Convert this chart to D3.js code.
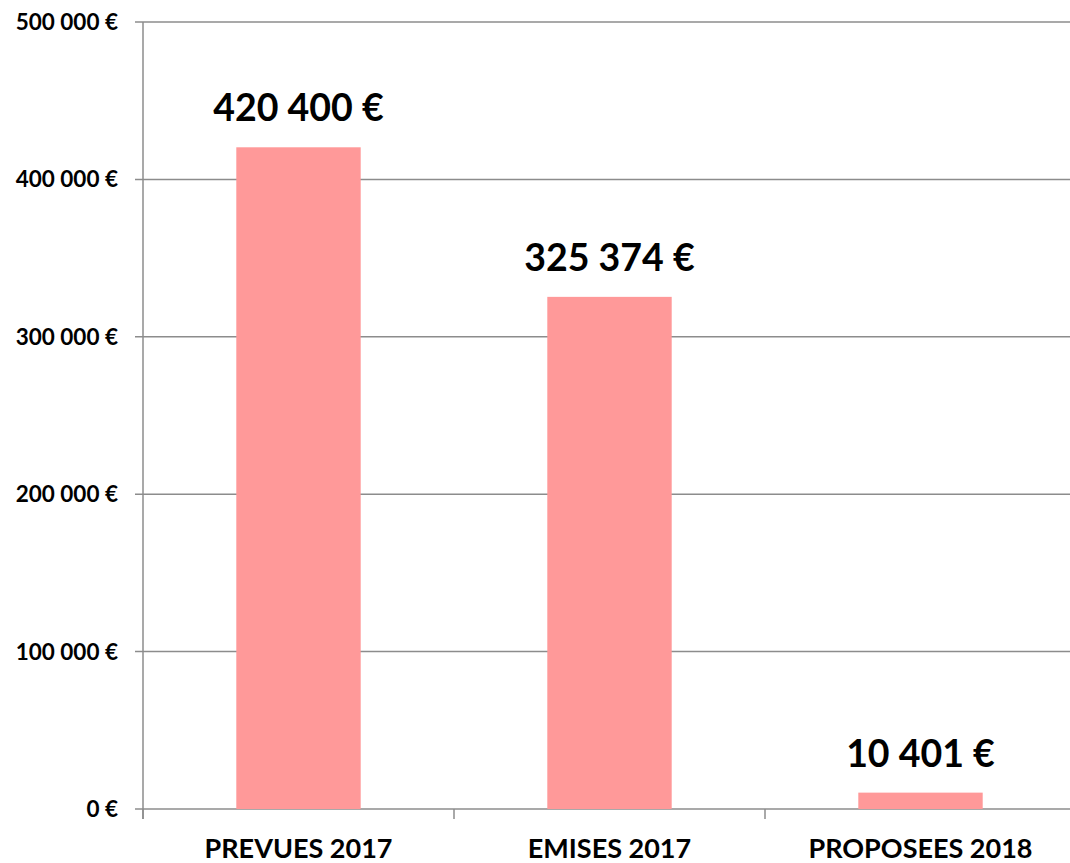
<!DOCTYPE html>
<html>
<head>
<meta charset="utf-8">
<script src="https://cdn.jsdelivr.net/npm/d3@7"></script>
<style>
  body { margin: 0; background: #fff; }
  text { font-family: Lato, "Open Sans", sans-serif; font-weight: bold; fill: #000; }
</style>
</head>
<body>
<div id="chart"></div>
<script>
var categories = ["PREVUES 2017", "EMISES 2017", "PROPOSEES 2018"];
var values = [420400, 325374, 10401];
var yTicks = [0, 100000, 200000, 300000, 400000, 500000];

var width = 1070, height = 863;
var plotLeft = 143, plotRight = 1076, plotTop = 22, plotBottom = 809;

function euro(v) {
  return d3.format(",")(v).replace(/,/g, " ") + " €";
}

var svg = d3.select("#chart").append("svg")
  .attr("width", width).attr("height", height);

var x = d3.scaleBand().domain(categories).range([plotLeft, plotRight])
  .paddingInner(0.6).paddingOuter(0.3);
var y = d3.scaleLinear().domain([0, 500000]).range([plotBottom, plotTop]);

// gridlines
svg.selectAll(".grid").data(yTicks).enter().append("line")
  .attr("x1", plotLeft - 8).attr("x2", width)
  .attr("y1", function(d) { return y(d); })
  .attr("y2", function(d) { return y(d); })
  .attr("stroke", "#8c8c8c").attr("stroke-width", 1.5);

// y axis line
svg.append("line")
  .attr("x1", plotLeft).attr("x2", plotLeft).attr("y1", plotTop).attr("y2", plotBottom + 10)
  .attr("stroke", "#8c8c8c").attr("stroke-width", 1.5);

// category ticks
var step = x.step();
svg.selectAll(".ctick").data(categories).enter().append("line")
  .attr("x1", function(d, i) { return plotLeft + i * step; })
  .attr("x2", function(d, i) { return plotLeft + i * step; })
  .attr("y1", plotBottom).attr("y2", plotBottom + 10)
  .attr("stroke", "#8c8c8c").attr("stroke-width", 1.5);

// y tick labels
svg.selectAll(".ylab").data(yTicks).enter().append("text")
  .attr("x", plotLeft - 25)
  .attr("y", function(d) { return y(d) + 8; })
  .attr("text-anchor", "end")
  .style("font-size", "22.5px")
  .text(euro);

// bars
svg.selectAll(".bar").data(values).enter().append("rect")
  .attr("x", function(d, i) { return x(categories[i]); })
  .attr("width", x.bandwidth())
  .attr("y", function(d) { return y(d); })
  .attr("height", function(d) { return plotBottom - y(d); })
  .attr("fill", "#ff9999");

// value labels
svg.selectAll(".val").data(values).enter().append("text")
  .attr("x", function(d, i) { return x(categories[i]) + x.bandwidth() / 2; })
  .attr("y", function(d) { return y(d) - 26; })
  .attr("text-anchor", "middle")
  .style("font-size", "37.5px")
  .text(euro);

// category labels
svg.selectAll(".cat").data(categories).enter().append("text")
  .attr("x", function(d) { return x(d) + x.bandwidth() / 2; })
  .attr("y", 858)
  .attr("text-anchor", "middle")
  .style("font-size", "27px")
  .text(function(d) { return d; });
</script>
</body>
</html>
